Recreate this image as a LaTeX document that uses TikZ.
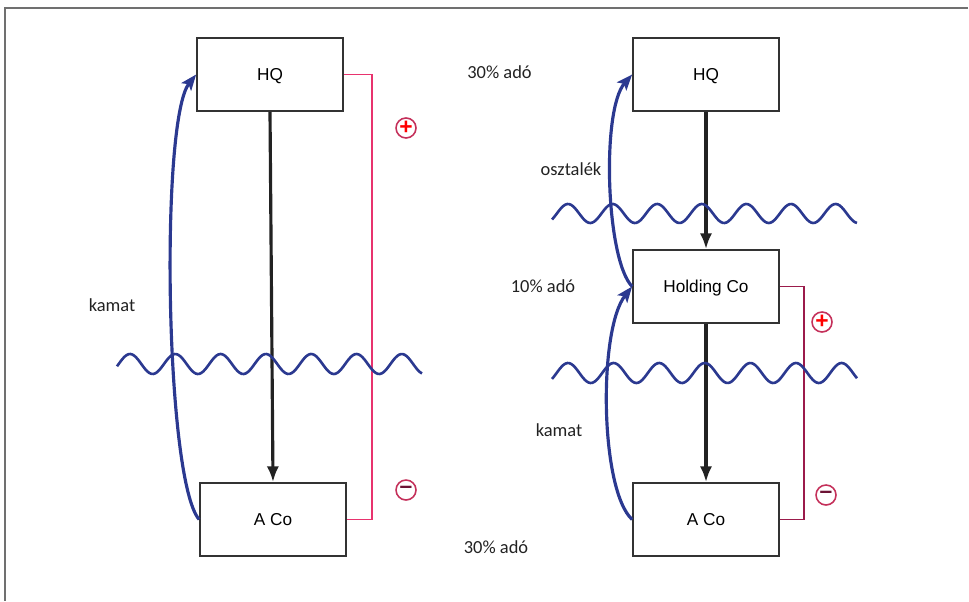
\documentclass[tikz,border=0pt]{standalone}
\usepackage{fontspec}
\setmainfont{Carlito}
\newfontfamily\boxfont{Liberation Sans}
\usetikzlibrary{arrows.meta}

\begin{document}
\begin{tikzpicture}[x=0.02cm, y=-0.02cm,
    company/.style={draw=boxColour, line width=1pt, fill=white,
        minimum width=2.92cm, minimum height=1.46cm, inner sep=0pt,
        text height=7pt, text depth=0pt,
        font=\boxfont\fontsize{9.8}{11}\selectfont},
    label/.style={font=\fontsize{10.5}{12}\selectfont, text=textColour},
    flow/.style={draw=flowColour, line width=1.8pt,
        -{Latex[length=9pt, width=7pt]}},
    loan/.style={draw=blueColour, line width=1.8pt,
        -{Stealth[length=9pt, width=7pt, inset=2pt]}},
    wave/.style={draw=blueColour, line width=1.5pt},
    sign/.style={circle, draw=ringColour, line width=0.9pt, minimum size=0.4cm,
        inner sep=0pt, font=\boxfont\bfseries\fontsize{13}{13}\selectfont}]
    \definecolor{boxColour}{HTML}{333333}
    \definecolor{textColour}{HTML}{222222}
    \definecolor{flowColour}{HTML}{222222}
    \definecolor{blueColour}{HTML}{2B3990}
    \definecolor{pinkColour}{HTML}{E8336E}
    \definecolor{maroonColour}{HTML}{9B1B4B}
    \definecolor{ringColour}{HTML}{C4305A}
    \definecolor{frameColour}{HTML}{707070}

    \useasboundingbox (0,0) rectangle (969,601);

    % Frame
    \draw[frameColour, line width=0.8pt] (968,8) -- (5,8) -- (5,601);

    % Left: HQ and A Co
    \node[company] (hqL) at (270,74.5) {HQ};
    \node[company] (acoL) at (273,519.5) {A Co};
    \draw[flow] (hqL.south) -- (acoL.north);
    \draw[pinkColour, line width=1pt] (hqL.east) -- ++(28,0) |- (acoL.east);
    \node[sign, text=red] (plusL) at (406,128) {+};
    \node[sign, text=maroonColour!70!black] (minusL) at (406,490) {–};
    \draw[wave] plot[domain=117:422, samples=160]
        (\x, {364 - 10*cos((\x-130)*7.947)});
    \draw[loan] (acoL.west) .. controls (165,480) and (160,120) .. (hqL.west);
    \node[label] (kamatL) at (112,305) {kamat};

    % Right: HQ, Holding Co and A Co
    \node[company] (hqR) at (706,74.5) {HQ};
    \node[company] (holdR) at (706,286.5) {Holding Co};
    \node[company] (acoR) at (706,519.5) {A Co};
    \draw[flow] (hqR.south) -- (holdR.north);
    \draw[flow] (holdR.south) -- (acoR.north);
    \draw[maroonColour, line width=1pt] (holdR.east) -- ++(24,0) |- (acoR.east);
    \node[sign, text=red] (plusR) at (822,322) {+};
    \node[sign, text=maroonColour!70!black] (minusR) at (826,495) {–};
    \draw[wave] plot[domain=552:857, samples=160]
        (\x, {213.5 - 9.5*cos((\x-568)*8.072)});
    \draw[wave] plot[domain=552:857, samples=160]
        (\x, {373 - 10*cos((\x-568)*7.895)});
    \draw[loan] (holdR.west) .. controls (606,260) and (601,110) .. (hqR.west);
    \draw[loan] (acoR.west) .. controls (600,490) and (598,330) .. (holdR.west);
    \node[label] (taxTop) at (499.5,72) {30\% adó};
    \node[label] (osztalek) at (571,169) {osztalék};
    \node[label] (taxMid) at (543,286) {10\% adó};
    \node[label] (kamatR) at (559,430) {kamat};
    \node[label] (taxBot) at (496,547) {30\% adó};

\end{tikzpicture}
\end{document}
